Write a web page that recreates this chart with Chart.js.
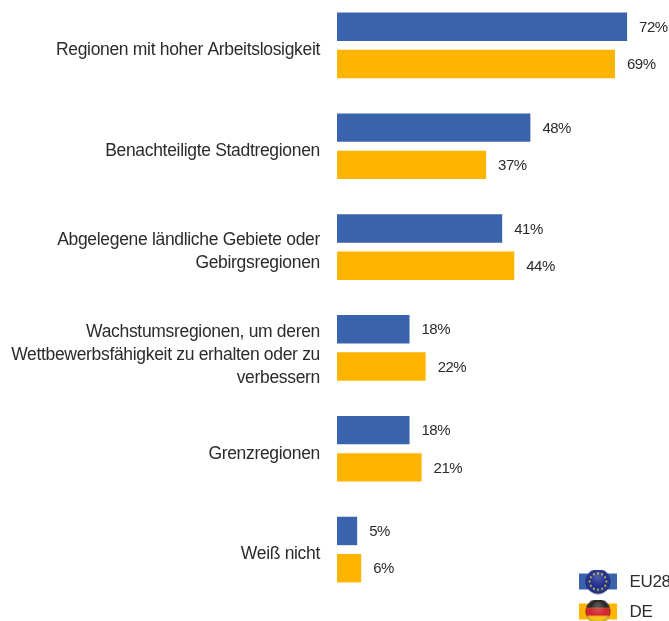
<!DOCTYPE html>
<html><head><meta charset="utf-8">
<script src="https://cdn.jsdelivr.net/npm/chart.js@4"></script>
<style>
html,body{margin:0;padding:0;background:#fff;overflow:hidden;width:669px;height:621px}
#wrap{position:absolute;left:0;top:-5px;width:669px;height:626px}
</style></head><body>
<div id="wrap"><canvas id="c" width="669" height="626"></canvas></div>
<script>
const categories = [
  "Regionen mit hoher Arbeitslosigkeit",
  "Benachteiligte Stadtregionen",
  ["Abgelegene ländliche Gebiete oder","Gebirgsregionen"],
  ["Wachstumsregionen, um deren","Wettbewerbsfähigkeit zu erhalten oder zu","verbessern"],
  "Grenzregionen",
  "Weiß nicht"
];
const eu28 = [72,48,41,18,18,5];
const de = [69,37,44,22,21,6];
const seriesNames = ["EU28","DE"];
const BLUE="#3A63AD", AMBER="#FFB400", TEXT="#2B2B2B";
const FONT='"Liberation Sans",Arial,sans-serif';

function flagIcon(swatch,paint){
  const cv=document.createElement('canvas');cv.width=38;cv.height=26;
  const g=cv.getContext('2d');
  g.fillStyle=swatch;g.fillRect(0,4,38,16);
  g.save();g.beginPath();g.arc(19,12,12.5,0,Math.PI*2);g.clip();paint(g);
  const sh=g.createRadialGradient(19,6,2,19,12,13);
  sh.addColorStop(0,'rgba(255,255,255,.22)');sh.addColorStop(.6,'rgba(255,255,255,0)');sh.addColorStop(1,'rgba(0,0,0,.3)');
  g.fillStyle=sh;g.fillRect(0,0,38,26);g.restore();
  return cv;
}
const euIcon=flagIcon(BLUE,g=>{
  g.fillStyle='#1C2A8C';g.fillRect(0,0,38,26);
  g.fillStyle='#E8CF3A';
  for(let i=0;i<12;i++){const a=i*Math.PI/6;g.beginPath();g.arc(19+8.3*Math.cos(a),12+8.3*Math.sin(a),1,0,Math.PI*2);g.fill();}
});
const deIcon=flagIcon(AMBER,g=>{
  g.fillStyle='#222';g.fillRect(0,0,38,8.5);
  g.fillStyle='#D3202A';g.fillRect(0,8.5,38,8);
  g.fillStyle='#F7C516';g.fillRect(0,16.5,38,9.5);
});

const valueLabels={id:'valueLabels',
  beforeDraw(chart){chart.ctx.letterSpacing='-0.32px';},
  afterDatasetsDraw(chart){
  const ctx=chart.ctx;ctx.save();
  ctx.letterSpacing='-0.5px';
  ctx.font='15px '+FONT;ctx.fillStyle=TEXT;ctx.textAlign='left';ctx.textBaseline='middle';
  chart.data.datasets.forEach((ds,i)=>{
    chart.getDatasetMeta(i).data.forEach((bar,j)=>{
      ctx.fillText(ds.data[j]+'%',bar.x+12,bar.y+1);
    });
  });
  ctx.restore();
}};
const placeLegend={id:'placeLegend',afterLayout(chart){
  const l=chart.legend;
  l.left=562;l.right=720;l.top=566;l.bottom=640;l.width=158;l.height=74;
  l.adjustHitBoxes();
}};

new Chart(document.getElementById('c'),{
  type:'bar',
  data:{labels:categories,datasets:[
    {label:seriesNames[0],data:eu28,backgroundColor:BLUE,categoryPercentage:0.754,barPercentage:0.763,pointStyle:euIcon},
    {label:seriesNames[1],data:de,backgroundColor:AMBER,categoryPercentage:0.754,barPercentage:0.763,pointStyle:deIcon}
  ]},
  options:{
    indexAxis:'y',responsive:false,animation:false,
    layout:{padding:{left:0,right:0,top:0,bottom:21}},
    scales:{
      x:{display:false,min:0,max:82.4},
      y:{
        grid:{display:false},border:{display:false},
        afterFit(s){
          s.width=337;s.paddingTop=0;s.paddingBottom=0;
          if(!s.__shifted){
            s.__shifted=true;
            const base=s.getPixelForTick.bind(s);
            s.getPixelForTick=i=>base(i)+(Array.isArray(categories[i])&&categories[i].length===3?7:5);
          }
        },
        ticks:{color:TEXT,padding:9,autoSkip:false,font:{family:FONT,size:17.5,lineHeight:1.31}}
      }
    },
    plugins:{
      tooltip:{enabled:false},
      legend:{position:'chartArea',align:'start',
        labels:{usePointStyle:true,pointStyleWidth:46,boxHeight:18,padding:13,color:TEXT,
          font:{family:FONT,size:17}}}
    }
  },
  plugins:[valueLabels,placeLegend]
});
</script>
</body></html>
